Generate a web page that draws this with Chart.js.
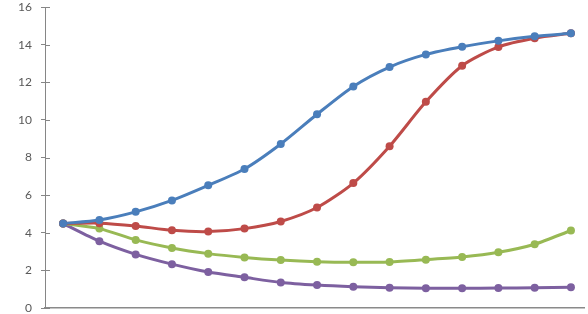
<!DOCTYPE html>
<html>
<head>
<meta charset="utf-8">
<script src="https://cdn.jsdelivr.net/npm/chart.js@4/dist/chart.umd.min.js"></script>
<style>
html,body{margin:0;padding:0;background:#fff;overflow:hidden;}
#wrap{width:588px;height:314px;position:relative;}
</style>
</head>
<body>
<div id="wrap"><canvas id="c" width="588" height="314"></canvas></div>
<script>
const categories = [0,1,2,3,4,5,6,7,8,9,10,11,12,13,14];
const seriesBlue   = [4.49,4.68,5.11,5.72,6.52,7.39,8.72,10.3,11.78,12.81,13.48,13.89,14.2,14.44,14.6];
const seriesRed    = [4.49,4.51,4.36,4.13,4.06,4.22,4.6,5.34,6.64,8.6,10.96,12.88,13.88,14.34,14.6];
const seriesGreen  = [4.49,4.22,3.62,3.19,2.89,2.69,2.55,2.46,2.43,2.45,2.57,2.71,2.96,3.39,4.12];
const seriesPurple = [4.49,3.55,2.85,2.33,1.91,1.63,1.36,1.22,1.13,1.07,1.05,1.05,1.06,1.08,1.1];
const yTicks = [0,2,4,6,8,10,12,14,16];

const colors = ['#4A7EBB','#BE4B48','#98B954','#7D60A0'];
const allSeries = [seriesBlue, seriesRed, seriesGreen, seriesPurple];

const datasets = allSeries.map((s, k) => ({
  data: s.map((v, i) => ({x: categories[i], y: v})),
  borderColor: colors[k],
  backgroundColor: colors[k],
  borderWidth: 3,
  pointRadius: 4,
  pointHoverRadius: 4,
  pointBorderWidth: 0,
  tension: 0.25
}));

const innerTicks = {
  id: 'innerTicks',
  afterDraw(chart) {
    const ys = chart.scales.y;
    const ctx = chart.ctx;
    ctx.save();
    ctx.strokeStyle = '#868686';
    ctx.lineWidth = 1;
    ys.ticks.forEach((t, i) => {
      const py = Math.round(ys.getPixelForTick(i)) + 0.5;
      ctx.beginPath();
      ctx.moveTo(ys.right, py);
      ctx.lineTo(ys.right + 5, py);
      ctx.stroke();
    });
    ctx.restore();
  }
};

new Chart(document.getElementById('c'), {
  type: 'line',
  data: { datasets },
  plugins: [innerTicks],
  options: {
    responsive: false,
    animation: false,
    events: [],
    layout: { padding: 0 },
    plugins: { legend: { display: false }, tooltip: { enabled: false } },
    scales: {
      x: {
        type: 'linear',
        min: -0.5,
        max: 14.36,
        afterFit(scale) { scale.height = 6; },
        ticks: { display: false },
        grid: { display: false, drawTicks: false },
        border: { display: true, color: '#8a8a8a', width: 1.5 }
      },
      y: {
        min: 0,
        max: 16,
        afterBuildTicks(scale) { scale.ticks = yTicks.map(v => ({value: v})); },
        afterFit(scale) { scale.width = 45; scale.paddingTop = 7; scale.paddingBottom = 0; },
        ticks: {
          color: '#595959',
          font: { family: 'Lato', size: 12 },
          padding: 9
        },
        grid: { drawOnChartArea: false, tickLength: 4, color: '#868686' },
        border: { display: true, color: '#868686', width: 1 }
      }
    }
  }
});
</script>
</body>
</html>
